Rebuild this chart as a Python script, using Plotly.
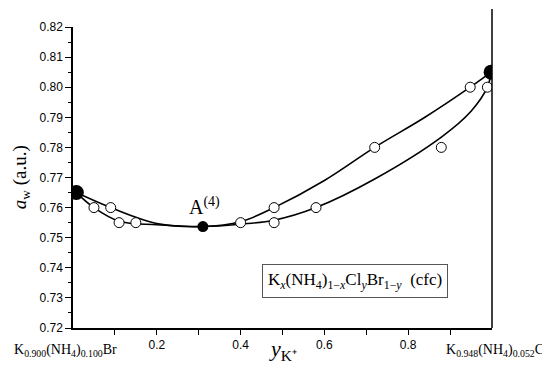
import plotly.graph_objects as go

# Measured points (open circles)
open_x = [0.05, 0.09, 0.11, 0.15, 0.40, 0.48, 0.48, 0.58, 0.72, 0.879, 0.948, 0.989]
open_y = [0.760, 0.760, 0.755, 0.755, 0.755, 0.760, 0.755, 0.760, 0.780, 0.780, 0.800, 0.800]

# End members and point A (filled)
end_x = [0.008, 0.998]
end_y = [0.765, 0.805]
a_x = [0.31]
a_y = [0.7537]

# Fitted curves (knots)
upper_x = [0.008, 0.09, 0.20, 0.31, 0.40, 0.48, 0.60, 0.72, 0.84, 0.948, 0.998]
upper_y = [0.765, 0.760, 0.7547, 0.7537, 0.7553, 0.760, 0.769, 0.780, 0.790, 0.800, 0.805]
lower_x = [0.008, 0.05, 0.11, 0.20, 0.31, 0.40, 0.48, 0.58, 0.72, 0.88, 0.95, 0.989, 0.998]
lower_y = [0.765, 0.760, 0.7555, 0.7543, 0.7537, 0.7545, 0.7558, 0.760, 0.7695, 0.7835, 0.792, 0.800, 0.805]

x_ticks = [0.2, 0.4, 0.6, 0.8]
x_ticklabels = ["0.2", "0.4", "0.6", "0.8"]
y_ticks = [0.72, 0.73, 0.74, 0.75, 0.76, 0.77, 0.78, 0.79, 0.80, 0.81, 0.82]

fig = go.Figure()
for cx, cy in [(upper_x, upper_y), (lower_x, lower_y)]:
    fig.add_trace(go.Scatter(x=cx, y=cy, mode="lines",
                             line=dict(color="black", width=1.6, shape="spline", smoothing=1.0),
                             hoverinfo="skip", showlegend=False))
fig.add_trace(go.Scatter(x=open_x, y=open_y, mode="markers",
                         marker=dict(size=10, color="white", line=dict(color="black", width=1)),
                         showlegend=False))
fig.add_trace(go.Scatter(x=end_x, y=end_y, mode="markers",
                         marker=dict(size=15, color="black"), showlegend=False))
fig.add_trace(go.Scatter(x=a_x, y=a_y, mode="markers",
                         marker=dict(size=11, color="black"), showlegend=False))

fig.update_layout(
    width=550, height=366,
    margin=dict(l=65, r=66, t=12, b=46),
    plot_bgcolor="white", paper_bgcolor="white",
    font=dict(family="Liberation Sans, Arial", size=12, color="black"),
    showlegend=False,
)
fig.update_xaxes(range=[0, 1], showgrid=False, zeroline=False, showline=True,
                 linecolor="black", linewidth=1.5, ticks="outside", ticklen=5,
                 tickwidth=1.2, tickcolor="black", tickvals=x_ticks, ticktext=x_ticklabels,
                 tickfont=dict(size=12),
                 minor=dict(tick0=0.1, dtick=0.2, ticks="outside", ticklen=5, tickcolor="black", tickwidth=1.2))
fig.update_yaxes(range=[0.72, 0.82], showgrid=False, zeroline=False, showline=True,
                 linecolor="black", linewidth=1.5, ticks="outside", ticklen=6,
                 tickwidth=1.2, tickcolor="black", tickvals=y_ticks, tickformat=".2f",
                 tickfont=dict(size=12),
                 minor=dict(dtick=0.005, ticks="outside", ticklen=3, tickcolor="black", tickwidth=1.2))

serif = "Liberation Serif, Times New Roman"
# right vertical line at x = 1, extending above the frame
fig.add_shape(type="line", xref="paper", yref="paper", x0=1, x1=1, y0=0, y1=1.06,
              line=dict(color="black", width=1.5))

fig.add_annotation(text="<i>a</i><sub>w</sub> (a.u.)", xref="paper", yref="paper",
                   x=-0.125, y=0.5, textangle=-90, showarrow=False,
                   font=dict(family=serif, size=19), xanchor="center", yanchor="middle")
fig.add_annotation(text="<i>y</i><sub>K⁺</sub>", xref="paper", yref="paper",
                   x=0.5, y=-0.125, showarrow=False, yanchor="bottom",
                   font=dict(family=serif, size=22))
fig.add_annotation(text="K<sub>0.900</sub>(NH<sub>4</sub>)<sub>0.100</sub>Br", xref="paper", yref="paper",
                   x=-0.145, y=-0.04, xanchor="left", showarrow=False, yanchor="top",
                   font=dict(family=serif, size=14))
fig.add_annotation(text="K<sub>0.948</sub>(NH<sub>4</sub>)<sub>0.052</sub>Cl", xref="paper", yref="paper",
                   x=1.138, y=-0.04, xanchor="right", showarrow=False, yanchor="top",
                   font=dict(family=serif, size=14))
fig.add_annotation(text="A<sup>(4)</sup>", xref="x", yref="y", x=0.315, y=0.7605,
                   showarrow=False, font=dict(family=serif, size=20))
fig.add_annotation(text="K<sub><i>x</i></sub>(NH<sub>4</sub>)<sub>1−<i>x</i></sub>Cl<sub><i>y</i></sub>Br<sub>1−<i>y</i></sub>  (cfc)",
                   xref="x", yref="y", x=0.673, y=0.7355, showarrow=False,
                   font=dict(family=serif, size=17), bordercolor="#555", borderwidth=1,
                   borderpad=5, bgcolor="white")

fig.write_html("out.html")
